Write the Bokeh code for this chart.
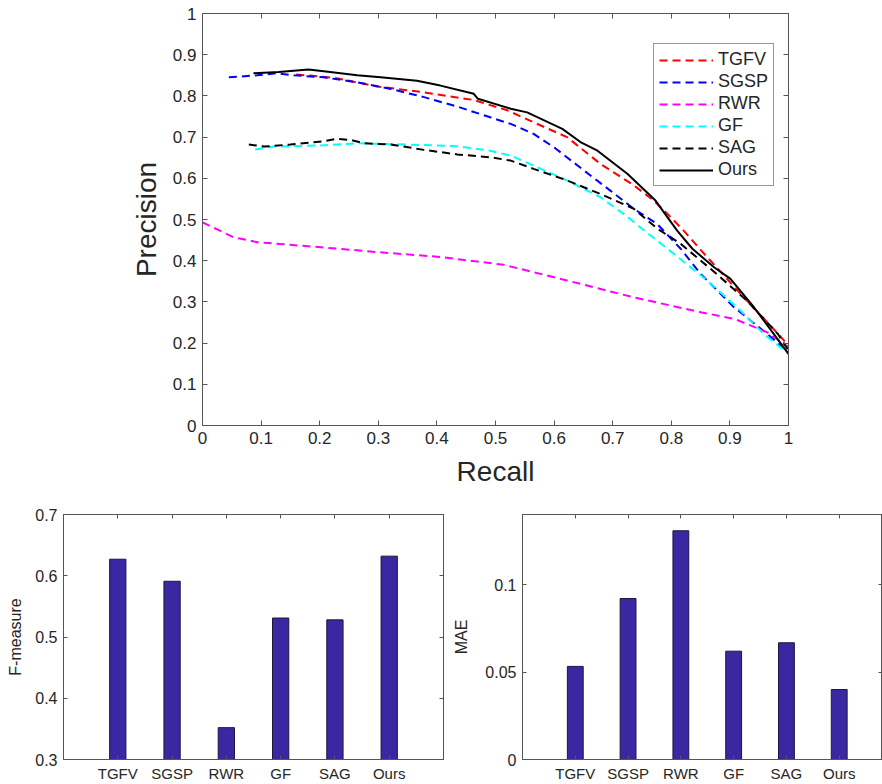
from bokeh.plotting import figure
from bokeh.models import Legend, LegendItem, LinearAxis, FixedTicker, Range1d
from bokeh.layouts import column, row
from bokeh.embed import file_html
from bokeh.resources import INLINE

# ---------------- data ----------------
series_names = ["TGFV", "SGSP", "RWR", "GF", "SAG", "Ours"]

tgfv_recall = [0.16, 0.224, 0.298, 0.377, 0.463, 0.52, 0.565, 0.622, 0.679, 0.736, 0.77, 0.796, 0.821, 0.861, 0.929, 0.969, 1.0]
tgfv_prec = [0.852, 0.844, 0.823, 0.809, 0.79, 0.765, 0.736, 0.70, 0.635, 0.583, 0.546, 0.51, 0.473, 0.409, 0.303, 0.243, 0.194]

sgsp_recall = [0.045, 0.093, 0.127, 0.156, 0.207, 0.264, 0.321, 0.378, 0.435, 0.491, 0.526, 0.565, 0.6, 0.651, 0.696, 0.736, 0.776, 0.816, 0.85, 0.907, 0.964, 1.0]
sgsp_prec = [0.845, 0.85, 0.855, 0.85, 0.845, 0.833, 0.817, 0.797, 0.774, 0.748, 0.732, 0.708, 0.675, 0.619, 0.570, 0.526, 0.489, 0.429, 0.368, 0.287, 0.222, 0.178]

rwr_recall = [0.0, 0.053, 0.093, 0.207, 0.298, 0.406, 0.514, 0.622, 0.736, 0.85, 0.907, 0.964, 1.0]
rwr_prec = [0.493, 0.457, 0.445, 0.432, 0.421, 0.409, 0.390, 0.352, 0.311, 0.275, 0.259, 0.226, 0.19]

gf_recall = [0.09, 0.122, 0.207, 0.264, 0.349, 0.435, 0.491, 0.526, 0.565, 0.622, 0.679, 0.725, 0.747, 0.804, 0.861, 0.918, 0.958, 1.0]
gf_prec = [0.67, 0.677, 0.68, 0.685, 0.682, 0.678, 0.667, 0.655, 0.631, 0.595, 0.554, 0.507, 0.481, 0.417, 0.352, 0.279, 0.222, 0.174]

sag_recall = [0.079, 0.105, 0.15, 0.207, 0.23, 0.253, 0.275, 0.321, 0.378, 0.435, 0.491, 0.526, 0.565, 0.622, 0.679, 0.736, 0.776, 0.816, 0.873, 0.929, 0.982, 1.0]
sag_prec = [0.682, 0.677, 0.682, 0.69, 0.696, 0.693, 0.685, 0.682, 0.669, 0.658, 0.651, 0.643, 0.623, 0.595, 0.562, 0.526, 0.478, 0.441, 0.373, 0.303, 0.222, 0.182]

ours_recall = [0.087, 0.13, 0.181, 0.207, 0.264, 0.304, 0.366, 0.406, 0.463, 0.47, 0.526, 0.554, 0.614, 0.645, 0.674, 0.725, 0.773, 0.81, 0.836, 0.873, 0.901, 0.941, 1.0]
ours_prec = [0.855, 0.858, 0.864, 0.86, 0.85, 0.845, 0.837, 0.825, 0.805, 0.793, 0.769, 0.760, 0.72, 0.688, 0.667, 0.611, 0.546, 0.473, 0.429, 0.384, 0.356, 0.287, 0.174]

pr_ticks = [0, 0.1, 0.2, 0.3, 0.4, 0.5, 0.6, 0.7, 0.8, 0.9, 1]
pr_tick_labels = ["0", "0.1", "0.2", "0.3", "0.4", "0.5", "0.6", "0.7", "0.8", "0.9", "1"]

bar_positions = [1, 2, 3, 4, 5, 6]
fmeasure = [0.627, 0.591, 0.352, 0.531, 0.528, 0.632]
mae = [0.0532, 0.092, 0.1307, 0.0619, 0.0667, 0.040]

f_ticks = [0.3, 0.4, 0.5, 0.6, 0.7]
f_tick_labels = ["0.3", "0.4", "0.5", "0.6", "0.7"]
mae_ticks = [0, 0.05, 0.1]
mae_tick_labels = ["0", "0.05", "0.1"]

# ---------------- style ----------------
FONT = "Liberation Sans"
AX = "#555555"
TXT = "#262626"


def style_axis(ax, fs, label_fs=None, tick_len=5):
    ax.axis_line_color = AX
    ax.major_tick_line_color = AX
    ax.major_tick_in = tick_len
    ax.major_tick_out = 0
    ax.minor_tick_line_color = None
    ax.major_label_text_font = FONT
    ax.major_label_text_font_size = fs
    ax.major_label_text_color = TXT
    ax.axis_label_text_font = FONT
    ax.axis_label_text_font_style = "normal"
    ax.axis_label_text_color = TXT
    if label_fs:
        ax.axis_label_text_font_size = label_fs


def mirror(p, ticks, side, tick_len=5):
    ax = LinearAxis(ticker=FixedTicker(ticks=ticks))
    style_axis(ax, "0px", tick_len=tick_len)
    ax.major_label_standoff = 0
    ax.major_label_overrides = {t: "" for t in ticks}
    p.add_layout(ax, side)


# ---------------- top PR plot ----------------
top = figure(width=882, height=495, x_range=Range1d(0, 1), y_range=Range1d(0, 1),
             output_backend="svg", toolbar_location=None,
             min_border_left=202, min_border_right=94, min_border_top=13, min_border_bottom=70)
top.grid.visible = False
top.outline_line_color = AX
top.background_fill_color = "white"

top.xaxis.ticker = FixedTicker(ticks=pr_ticks)
top.yaxis.ticker = FixedTicker(ticks=pr_ticks)
top.xaxis.major_label_overrides = dict(zip(pr_ticks, pr_tick_labels))
top.yaxis.major_label_overrides = dict(zip(pr_ticks, pr_tick_labels))
style_axis(top.xaxis[0], "17px", "28px")
style_axis(top.yaxis[0], "17px", "28px")
top.xaxis.axis_label = "Recall"
top.yaxis.axis_label = "Precision"
top.xaxis.major_label_standoff = 6
top.yaxis.major_label_standoff = 6
top.xaxis.axis_label_standoff = 9
top.yaxis.axis_label_standoff = 8
mirror(top, pr_ticks, "above")
mirror(top, pr_ticks, "right")

DASH = "8 5"
r_tgfv = top.line(tgfv_recall, tgfv_prec, line_color="#ff0000", line_width=2, line_dash=DASH)
r_sgsp = top.line(sgsp_recall, sgsp_prec, line_color="#0000ff", line_width=2, line_dash=DASH)
r_rwr = top.line(rwr_recall, rwr_prec, line_color="#ff00ff", line_width=2, line_dash=DASH)
r_gf = top.line(gf_recall, gf_prec, line_color="#00ffff", line_width=2, line_dash=DASH)
r_sag = top.line(sag_recall, sag_prec, line_color="#000000", line_width=2, line_dash=DASH)
r_ours = top.line(ours_recall, ours_prec, line_color="#000000", line_width=2)

legend = Legend(items=[LegendItem(label=n, renderers=[r]) for n, r in
                       zip(series_names, [r_tgfv, r_sgsp, r_rwr, r_gf, r_sag, r_ours])],
                location=(451, 239))
legend.border_line_color = "#333333"
legend.border_line_width = 1
legend.background_fill_color = "white"
legend.background_fill_alpha = 1
legend.label_text_font = FONT
legend.label_text_font_size = "18px"
legend.label_text_color = TXT
legend.glyph_width = 54
legend.glyph_height = 20
legend.label_height = 20
legend.spacing = 1
legend.padding = 5
legend.margin = 0
legend.label_standoff = 5
top.add_layout(legend, "center")

# ---------------- bar plots ----------------
BAR_FILL = "#3a28a3"
BAR_EDGE = "#1c1640"


def bar_fig(width, xmax, yr, ticks, tick_labels, values, ylabel, mbl, mbr, stand):
    p = figure(width=width, height=289, x_range=Range1d(0, xmax), y_range=Range1d(*yr),
               output_backend="svg", toolbar_location=None,
               min_border_left=mbl, min_border_right=mbr, min_border_top=19, min_border_bottom=24)
    p.grid.visible = False
    p.outline_line_color = AX
    p.vbar(x=bar_positions, top=values, bottom=yr[0], width=0.3,
           fill_color=BAR_FILL, line_color=BAR_EDGE, line_width=1)
    p.xaxis.ticker = FixedTicker(ticks=bar_positions)
    p.xaxis.major_label_overrides = dict(zip(bar_positions, series_names))
    p.yaxis.ticker = FixedTicker(ticks=ticks)
    p.yaxis.major_label_overrides = dict(zip(ticks, tick_labels))
    style_axis(p.xaxis[0], "15px", tick_len=4)
    style_axis(p.yaxis[0], "16px", "16px", tick_len=4)
    p.yaxis.axis_label = ylabel
    p.yaxis.axis_label_standoff = stand
    p.xaxis.major_label_standoff = 5
    p.yaxis.major_label_standoff = 6
    mirror(p, bar_positions, "above", tick_len=4)
    mirror(p, ticks, "right", tick_len=4)
    return p


left = bar_fig(450, 7, (0.3, 0.7), f_ticks, f_tick_labels, fmeasure, "F-measure", 63, 7, 8)
right = bar_fig(432, 371 / 54.4, (0, 0.14), mae_ticks, mae_tick_labels, mae, "MAE", 61, 0, 12)

layout = column(top, row(left, right, spacing=0), spacing=0)

open("out.html", "w").write(file_html(layout, INLINE))
